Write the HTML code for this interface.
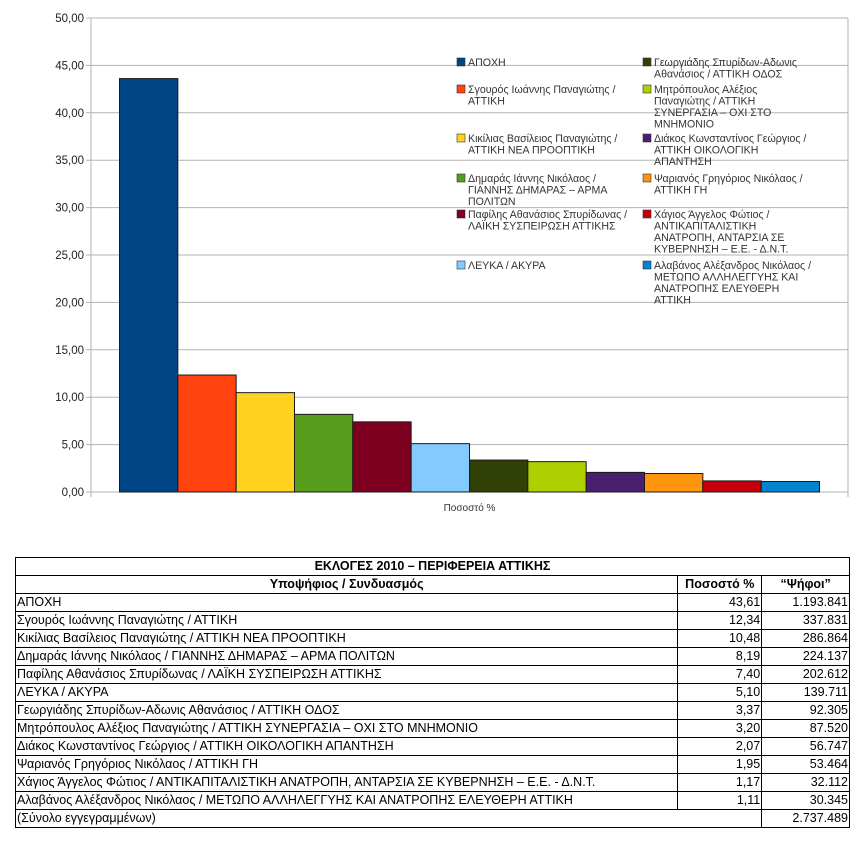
<!DOCTYPE html>
<html><head><meta charset="utf-8"><style>
body{margin:0;background:#fff;width:868px;height:841px;position:relative;overflow:hidden;font-family:"Liberation Sans","DejaVu Sans",sans-serif}
svg{position:absolute;left:0;top:0}
table{position:absolute;left:15px;top:557px;width:835px;border-collapse:collapse;font-family:"Liberation Sans Narrow","Liberation Sans",sans-serif;font-size:12.5px;color:#000}
td{border:1px solid #000;height:17px;padding:0 1px;line-height:17px;white-space:nowrap}
td.n{text-align:right}
.h td{font-weight:bold;text-align:center}
</style></head><body>
<svg id="chart" width="868" height="540" font-family="Liberation Sans, DejaVu Sans, sans-serif"></svg>
<table>
<colgroup><col style="width:663px"><col style="width:84px"><col style="width:88px"></colgroup>
<tr class="h"><td colspan="3">ΕΚΛΟΓΕΣ 2010 – ΠΕΡΙΦΕΡΕΙΑ ΑΤΤΙΚΗΣ</td></tr>
<tr class="h"><td>Υποψήφιος / Συνδυασμός</td><td>Ποσοστό %</td><td>“Ψήφοι”</td></tr>
<tr><td>ΑΠΟΧΗ</td><td class="n">43,61</td><td class="n">1.193.841</td></tr>
<tr><td>Σγουρός Ιωάννης Παναγιώτης / ΑΤΤΙΚΗ</td><td class="n">12,34</td><td class="n">337.831</td></tr>
<tr><td>Κικίλιας Βασίλειος Παναγιώτης / ΑΤΤΙΚΗ ΝΕΑ ΠΡΟΟΠΤΙΚΗ</td><td class="n">10,48</td><td class="n">286.864</td></tr>
<tr><td>Δημαράς Ιάννης Νικόλαος / ΓΙΑΝΝΗΣ ΔΗΜΑΡΑΣ – ΑΡΜΑ ΠΟΛΙΤΩΝ</td><td class="n">8,19</td><td class="n">224.137</td></tr>
<tr><td>Παφίλης Αθανάσιος Σπυρίδωνας / ΛΑΪΚΗ ΣΥΣΠΕΙΡΩΣΗ ΑΤΤΙΚΗΣ</td><td class="n">7,40</td><td class="n">202.612</td></tr>
<tr><td>ΛΕΥΚΑ / ΑΚΥΡΑ</td><td class="n">5,10</td><td class="n">139.711</td></tr>
<tr><td>Γεωργιάδης Σπυρίδων-Αδωνις Αθανάσιος / ΑΤΤΙΚΗ ΟΔΟΣ</td><td class="n">3,37</td><td class="n">92.305</td></tr>
<tr><td>Μητρόπουλος Αλέξιος Παναγιώτης / ΑΤΤΙΚΗ ΣΥΝΕΡΓΑΣΙΑ – ΟΧΙ ΣΤΟ ΜΝΗΜΟΝΙΟ</td><td class="n">3,20</td><td class="n">87.520</td></tr>
<tr><td>Διάκος Κωνσταντίνος Γεώργιος / ΑΤΤΙΚΗ ΟΙΚΟΛΟΓΙΚΗ ΑΠΑΝΤΗΣΗ</td><td class="n">2,07</td><td class="n">56.747</td></tr>
<tr><td>Ψαριανός Γρηγόριος Νικόλαος / ΑΤΤΙΚΗ ΓΗ</td><td class="n">1,95</td><td class="n">53.464</td></tr>
<tr><td>Χάγιος Άγγελος Φώτιος / ΑΝΤΙΚΑΠΙΤΑΛΙΣΤΙΚΗ ΑΝΑΤΡΟΠΗ, ΑΝΤΑΡΣΙΑ ΣΕ ΚΥΒΕΡΝΗΣΗ – Ε.Ε. - Δ.Ν.Τ.</td><td class="n">1,17</td><td class="n">32.112</td></tr>
<tr><td>Αλαβάνος Αλέξανδρος Νικόλαος / ΜΕΤΩΠΟ ΑΛΛΗΛΕΓΓΥΗΣ ΚΑΙ ΑΝΑΤΡΟΠΗΣ ΕΛΕΥΘΕΡΗ ΑΤΤΙΚΗ</td><td class="n">1,11</td><td class="n">30.345</td></tr>
<tr><td colspan="2">(Σύνολο εγγεγραμμένων)</td><td class="n">2.737.489</td></tr>
</table>
<script>
const categories=[["ΑΠΟΧΗ"],["Σγουρός Ιωάννης Παναγιώτης /","ΑΤΤΙΚΗ"],["Κικίλιας Βασίλειος Παναγιώτης /","ΑΤΤΙΚΗ ΝΕΑ ΠΡΟΟΠΤΙΚΗ"],["Δημαράς Ιάννης Νικόλαος /","ΓΙΑΝΝΗΣ ΔΗΜΑΡΑΣ – ΑΡΜΑ","ΠΟΛΙΤΩΝ"],["Παφίλης Αθανάσιος Σπυρίδωνας /","ΛΑΪΚΗ ΣΥΣΠΕΙΡΩΣΗ ΑΤΤΙΚΗΣ"],["ΛΕΥΚΑ / ΑΚΥΡΑ"],["Γεωργιάδης Σπυρίδων-Αδωνις","Αθανάσιος / ΑΤΤΙΚΗ ΟΔΟΣ"],["Μητρόπουλος Αλέξιος","Παναγιώτης / ΑΤΤΙΚΗ","ΣΥΝΕΡΓΑΣΙΑ – ΟΧΙ ΣΤΟ","ΜΝΗΜΟΝΙΟ"],["Διάκος Κωνσταντίνος Γεώργιος /","ΑΤΤΙΚΗ ΟΙΚΟΛΟΓΙΚΗ","ΑΠΑΝΤΗΣΗ"],["Ψαριανός Γρηγόριος Νικόλαος /","ΑΤΤΙΚΗ ΓΗ"],["Χάγιος Άγγελος Φώτιος /","ΑΝΤΙΚΑΠΙΤΑΛΙΣΤΙΚΗ","ΑΝΑΤΡΟΠΗ, ΑΝΤΑΡΣΙΑ ΣΕ","ΚΥΒΕΡΝΗΣΗ – Ε.Ε. - Δ.Ν.Τ."],["Αλαβάνος Αλέξανδρος Νικόλαος /","ΜΕΤΩΠΟ ΑΛΛΗΛΕΓΓΥΗΣ ΚΑΙ","ΑΝΑΤΡΟΠΗΣ ΕΛΕΥΘΕΡΗ","ΑΤΤΙΚΗ"]];
const values=[43.61,12.34,10.48,8.19,7.40,5.10,3.37,3.20,2.07,1.95,1.17,1.11];
const colors=["#004586","#ff420e","#ffd320","#579d1c","#7e0021","#83caff","#314004","#aecf00","#4b1f6f","#ff950e","#c5000b","#0084d1"];
const yTicks=[0,5,10,15,20,25,30,35,40,45,50];
const yTickLabels=["0,00","5,00","10,00","15,00","20,00","25,00","30,00","35,00","40,00","45,00","50,00"];
const legendRowY=[57,84,133,173,209,260];
const NS="http://www.w3.org/2000/svg";
const svg=document.getElementById('chart');
const L=91,R=848,T=18,B=492,pad=28.5;
const bw=(R-L-2*pad)/values.length;
const y=v=>B-(v-0)/(50-0)*(B-T);
const x=i=>L+pad+i*bw;
function mk(t,a,p){const e=document.createElementNS(NS,t);for(const k in a)e.setAttribute(k,a[k]);(p||svg).appendChild(e);return e;}
yTicks.forEach((t,i)=>{
  const g=mk('line',{x1:L-5,x2:R,y1:y(t),y2:y(t),stroke:'#b3b3b3','stroke-width':1});
  
  
  const tx=mk('text',{x:L-7,y:y(t)+4,'text-anchor':'end','font-size':11.5,fill:'#222'});
  tx.textContent=yTickLabels[i];
  
  
});
const ax=mk('line',{x1:L,x2:L,y1:T,y2:B+5,stroke:'#b3b3b3'});


const ax2=mk('line',{x1:R,x2:R,y1:T,y2:B+5,stroke:'#b3b3b3'});


values.forEach((v,i)=>{
  const r=mk('rect',{x:x(i),y:y(v),width:bw,height:B-y(v),fill:colors[i],stroke:'#1a1a1a','stroke-width':1});
  
  
});
const xl=mk('text',{x:(L+R)/2,y:511,'text-anchor':'middle','font-size':10,fill:'#333'});
xl.textContent='Ποσοστό %';


categories.forEach((lines,i)=>{
  const col=i<6?0:1,row=i%6;
  const lx=col?643:457,ly=legendRowY[row];
  const g=mk('g',{});
  
  
  mk('rect',{x:lx,y:ly+1,width:8,height:8,fill:colors[i],stroke:'#333','stroke-width':0.6},g);
  const t=mk('text',{x:lx+11,y:ly+9,'font-size':10.6,fill:'#333'},g);
  lines.forEach((s,j)=>{const ts=mk('tspan',{x:lx+11,dy:j?11.5:0},t);ts.textContent=s;});
});
</script>
</body></html>
